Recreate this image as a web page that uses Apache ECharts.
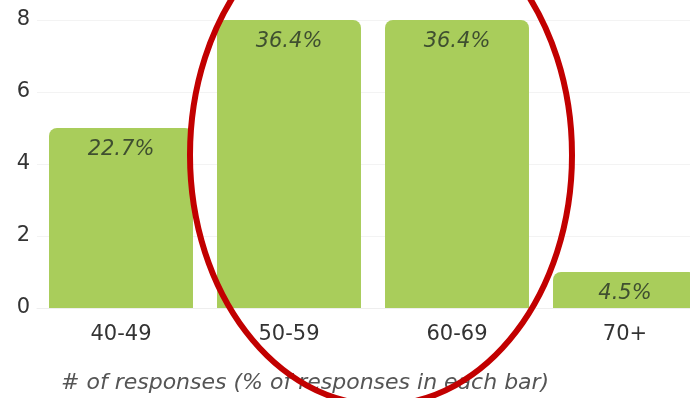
<!DOCTYPE html>
<html><head><meta charset="utf-8">
<script src="https://cdn.jsdelivr.net/npm/echarts@6/dist/echarts.min.js"></script>
<style>html,body{margin:0;padding:0;background:#fff;overflow:hidden;width:690px;height:398px}#c{width:709px;height:398px}</style>
</head><body><div id="c"></div>
<script>
const categories = ['40-49', '50-59', '60-69', '70+'];
const counts = [5, 8, 8, 1];
const percentLabels = ['22.7%', '36.4%', '36.4%', '4.5%'];
const yMin = 0, yMax = 8, yStep = 2;
const axisTitle = '# of responses (% of responses in each bar)';

const FONT = 'DejaVu Sans';
const chart = echarts.init(document.getElementById('c'), null, {renderer: 'canvas'});
chart.setOption({
  animation: false,
  backgroundColor: '#ffffff',
  grid: {left: 37, top: 20, right: 0, height: 288, containLabel: false},
  title: {
    text: axisTitle, left: 56, top: 367,
    textStyle: {fontFamily: FONT, fontSize: 22, fontStyle: 'italic', fontWeight: 'normal', color: '#555555'}
  },
  xAxis: {
    type: 'category', data: categories,
    axisLine: {show: true, lineStyle: {color: '#eeeeee'}},
    axisTick: {show: false},
    axisLabel: {fontFamily: FONT, fontSize: 21, color: '#333333', margin: 16}
  },
  yAxis: {
    type: 'value', min: yMin, max: yMax, interval: yStep,
    axisLine: {show: false}, axisTick: {show: false},
    splitLine: {lineStyle: {color: '#f3f3f3', width: 1}},
    axisLabel: {fontFamily: FONT, fontSize: 21, color: '#333333', margin: 7}
  },
  series: [{
    type: 'bar', data: counts,
    barCategoryGap: '14.3%',
    itemStyle: {color: '#a9cd5b', borderRadius: [8, 8, 0, 0]},
    label: {
      show: true, position: 'insideTop', distance: 11,
      formatter: p => percentLabels[p.dataIndex],
      fontFamily: FONT, fontSize: 21, fontStyle: 'italic', color: '#3f4f30'
    }
  }],
  graphic: [{
    type: 'ellipse', z: 100,
    shape: {cx: 381, cy: 155, rx: 191, ry: 250},
    style: {fill: 'none', stroke: '#c20000', lineWidth: 6}
  }]
});
</script>
</body></html>
